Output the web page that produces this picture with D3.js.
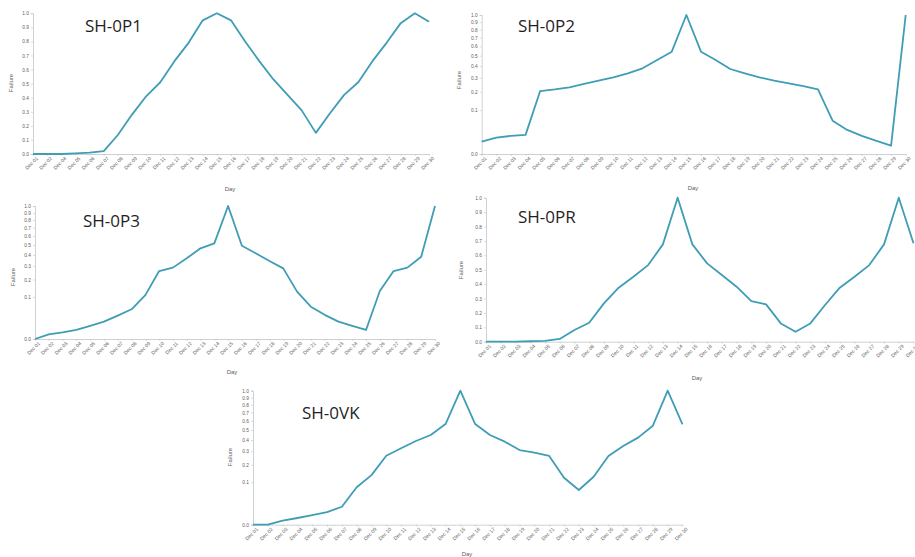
<!DOCTYPE html>
<html><head><meta charset="utf-8">
<script src="https://cdn.jsdelivr.net/npm/d3@7/dist/d3.min.js"></script>
<style>body{margin:0;background:#fff}svg{display:block}</style>
</head><body>
<svg id="chart" width="915" height="557"></svg>
<script>
// Day labels
const daysAll = ["Dec 01","Dec 02","Dec 03","Dec 04","Dec 05","Dec 06","Dec 07","Dec 08","Dec 09","Dec 10",
  "Dec 11","Dec 12","Dec 13","Dec 14","Dec 15","Dec 16","Dec 17","Dec 18","Dec 19","Dec 20",
  "Dec 21","Dec 22","Dec 23","Dec 24","Dec 25","Dec 26","Dec 27","Dec 28","Dec 29","Dec 30"];
const daysP1 = ["Dec 01","Dec 02","Dec 04","Dec 05","Dec 06","Dec 07","Dec 08","Dec 09","Dec 10",
  "Dec 11","Dec 12","Dec 13","Dec 14","Dec 15","Dec 16","Dec 17","Dec 18","Dec 19","Dec 20",
  "Dec 21","Dec 22","Dec 23","Dec 24","Dec 25","Dec 26","Dec 27","Dec 28","Dec 29","Dec 30"];

// Failure values per equipment
const failureP1 = [0.0,0.0,0.0,0.005,0.01,0.02,0.135,0.28,0.41,0.51,0.66,0.79,0.95,1.0,0.95,
  0.80,0.66,0.53,0.42,0.31,0.15,0.29,0.42,0.51,0.66,0.79,0.93,1.0,0.94];
const failureP2 = [0.008,0.014,0.017,0.019,0.205,0.216,0.230,0.254,0.278,0.304,0.337,0.380,0.457,0.542,1.0,
  0.542,0.457,0.374,0.337,0.304,0.278,0.258,0.239,0.216,0.0575,0.030,0.017,0.009,0.0036,1.0];
const failureP3 = [0.0,0.0012,0.0025,0.0046,0.0096,0.017,0.031,0.050,0.109,0.261,0.288,0.368,0.465,0.517,1.0,
  0.492,0.415,0.344,0.282,0.127,0.059,0.033,0.017,0.0096,0.0046,0.130,0.261,0.288,0.383,1.0];
const failurePR = [0.0,0.0,0.0,0.003,0.006,0.019,0.081,0.132,0.266,0.375,0.451,0.532,0.676,1.0,
  0.676,0.544,0.463,0.382,0.282,0.259,0.127,0.069,0.127,0.255,0.375,0.451,0.532,0.676,1.0,0.683];
const failureVK = [0.0,0.0,0.0009,0.0025,0.0052,0.0089,0.018,0.078,0.137,0.265,0.325,0.390,0.448,0.564,1.0,
  0.564,0.448,0.384,0.310,0.289,0.263,0.123,0.067,0.128,0.263,0.345,0.422,0.546,1.0,0.561];

const yTicks = [0,0.1,0.2,0.3,0.4,0.5,0.6,0.7,0.8,0.9,1.0];

const panels = [
  {title:"SH-0P1", days:daysP1, values:failureP1, type:"linear",
   x0:33, x1:429, yTop:13.3, yBot:154, titleX:85, titleY:32, yLabX:13, yLabY:83, dayX:230, dayY:191},
  {title:"SH-0P2", days:daysAll, values:failureP2, type:"sqrt",
   x0:481.7, x1:905.7, yTop:15, yBot:154, titleX:518, titleY:32, yLabX:461, yLabY:80, dayX:693, dayY:190},
  {title:"SH-0P3", days:daysAll, values:failureP3, type:"sqrt",
   x0:35, x1:435, yTop:206, yBot:339, titleX:83, titleY:227, yLabX:15, yLabY:277, dayX:232, dayY:374},
  {title:"SH-0PR", days:daysAll, values:failurePR, type:"linear",
   x0:486, x1:913.5, yTop:197.7, yBot:341.7, titleX:518, titleY:223, yLabX:463, yLabY:270, dayX:697, dayY:380},
  {title:"SH-0VK", days:daysAll, values:failureVK, type:"sqrt",
   x0:253, x1:682.5, yTop:390.7, yBot:524.7, titleX:302, titleY:419, yLabX:232, yLabY:457, dayX:467, dayY:556}
];

const svg = d3.select("#chart");
const lineColor = "#3f9db5";
const axisColor = "#bfc6c9";
const textColor = "#5e5e5e";

panels.forEach(p => {
  const x = d3.scalePoint().domain(p.days).range([p.x0, p.x1]);
  const y = (p.type === "sqrt" ? d3.scaleSqrt() : d3.scaleLinear())
    .domain([0, 1]).range([p.yBot, p.yTop]);

  const g = svg.append("g");

  // y axis
  const ya = g.append("g").attr("transform", `translate(${p.x0},0)`)
    .call(d3.axisLeft(y).tickValues(yTicks).tickFormat(d3.format(".1f")).tickSize(2).tickPadding(2));
  ya.select(".domain").attr("stroke", axisColor).attr("stroke-width", 0.8);
  ya.selectAll(".tick line").attr("stroke", axisColor).attr("stroke-width", 0.6);
  ya.selectAll("text").attr("fill", textColor).style("font", "4.8px 'Liberation Sans', Arial, sans-serif");

  // x axis
  const xa = g.append("g").attr("transform", `translate(0,${p.yBot})`)
    .call(d3.axisBottom(x).tickSize(2).tickPadding(2).tickSizeOuter(0));
  xa.select(".domain").attr("stroke", axisColor).attr("stroke-width", 0.8);
  xa.selectAll(".tick line").attr("stroke", axisColor).attr("stroke-width", 0.6);
  xa.selectAll("text")
    .attr("fill", textColor)
    .style("font", "5px 'Liberation Sans', Arial, sans-serif")
    .attr("text-anchor", "end")
    .attr("dy", "0.3em")
    .attr("transform", "translate(1,1) rotate(-45)");

  // data line
  const line = d3.line().x((d, i) => x(p.days[i])).y(d => y(d));
  g.append("path").datum(p.values)
    .attr("d", line)
    .attr("fill", "none")
    .attr("stroke", lineColor)
    .attr("stroke-width", 1.8)
    .attr("stroke-linejoin", "round");

  // title
  g.append("text").attr("x", p.titleX).attr("y", p.titleY)
    .attr("fill", "#1f1f1f")
    .style("font", "17px 'Open Sans', 'Noto Sans', sans-serif")
    .text(p.title);

  // axis titles
  g.append("text")
    .attr("transform", `translate(${p.yLabX},${p.yLabY}) rotate(-90)`)
    .attr("text-anchor", "middle")
    .attr("fill", textColor)
    .style("font", "6px 'Liberation Sans', Arial, sans-serif")
    .text("Failure");
  g.append("text").attr("x", p.dayX).attr("y", p.dayY)
    .attr("text-anchor", "middle")
    .attr("fill", textColor)
    .style("font", "6px 'Liberation Sans', Arial, sans-serif")
    .text("Day");
});
</script>
</body></html>
